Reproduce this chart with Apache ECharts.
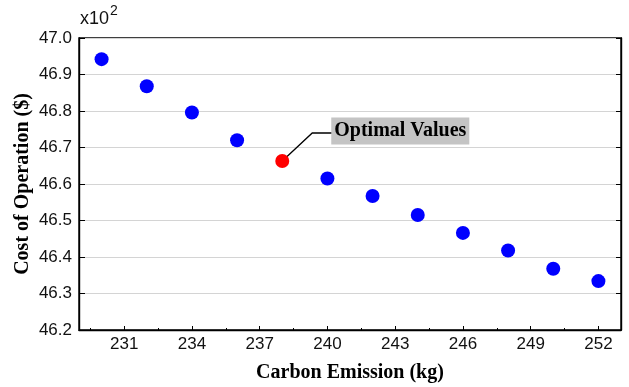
<!DOCTYPE html>
<html>
<head>
<meta charset="utf-8">
<script src="https://cdn.jsdelivr.net/npm/echarts@6/dist/echarts.min.js"></script>
<style>
html,body{margin:0;padding:0;background:#fff;}
#c{width:629px;height:387px;}
</style>
</head>
<body>
<div id="c"></div>
<script>
const emission = [230, 232, 234, 236, 238, 240, 242, 244, 246, 248, 250, 252];
const cost = [46.942, 46.868, 46.796, 46.720, 46.663, 46.615, 46.567, 46.515, 46.466, 46.418, 46.368, 46.334];
const optimalIndex = 4;
const xTicks = [231, 234, 237, 240, 243, 246, 249, 252];
const xMinorTicks = [229.5, 232.5, 235.5, 238.5, 241.5, 244.5, 247.5, 250.5];
const annotationText = 'Optimal Values';

const serif = '"Liberation Serif", "Times New Roman", serif';
const sans = '"Liberation Sans", Arial, sans-serif';

const normalPts = [];
emission.forEach((x, i) => { if (i !== optimalIndex) normalPts.push([x, cost[i]]); });
const optimalPts = [[emission[optimalIndex], cost[optimalIndex]]];

const chart = echarts.init(document.getElementById('c'), null, {renderer: 'canvas'});
const gridPos = {left: 79, top: 38, right: 8, bottom: 57, outerBoundsMode: 'none', containLabel: false};
chart.setOption({
  animation: false,
  backgroundColor: '#fff',
  grid: [
    Object.assign({show: true, borderColor: '#000', borderWidth: 1.4, backgroundColor: 'transparent'}, gridPos),
    Object.assign({show: false}, gridPos)
  ],
  xAxis: [{
    gridIndex: 0, type: 'value', min: 229, max: 253, position: 'bottom',
    name: 'Carbon Emission (kg)', nameLocation: 'middle', nameGap: 33, nameMoveOverlap: false,
    nameTextStyle: {fontFamily: serif, fontWeight: 'bold', fontSize: 20, color: '#000'},
    axisLine: {show: true, lineStyle: {color: '#000', width: 1.4}},
    axisTick: {show: true, inside: true, length: 4, customValues: xTicks, lineStyle: {color: '#000'}},
    axisLabel: {customValues: xTicks, fontFamily: sans, fontSize: 17, color: '#111', margin: 6},
    splitLine: {show: false}
  }, {
    gridIndex: 1, type: 'value', min: 229, max: 253, position: 'bottom',
    axisLine: {show: false},
    axisTick: {show: true, inside: true, length: 2, customValues: xMinorTicks, lineStyle: {color: '#000'}},
    axisLabel: {show: false},
    splitLine: {show: false}
  }],
  yAxis: [{
    gridIndex: 0, type: 'value', min: 46.2, max: 47.0, interval: 0.1, position: 'left',
    name: 'Cost of Operation ($)', nameLocation: 'middle', nameGap: 46, nameMoveOverlap: false,
    nameTextStyle: {fontFamily: serif, fontWeight: 'bold', fontSize: 20, color: '#000'},
    axisLine: {show: true, lineStyle: {color: '#000', width: 1.4}},
    axisTick: {show: true, inside: true, length: 6, lineStyle: {color: '#000'}},
    axisLabel: {fontFamily: sans, fontSize: 17, color: '#111', margin: 7, formatter: v => v.toFixed(1)},
    splitLine: {show: true, lineStyle: {color: '#d4d4d4', width: 1.2}}
  }, {
    gridIndex: 0, type: 'value', min: 46.2, max: 47.0, interval: 0.1, position: 'right',
    axisLine: {show: true, lineStyle: {color: '#000', width: 1.4}},
    axisTick: {show: true, inside: true, length: 5, lineStyle: {color: '#000'}},
    axisLabel: {show: false},
    splitLine: {show: false}
  }, {
    gridIndex: 1, type: 'value', min: 46.2, max: 47.0, show: false
  }],
  series: [{
    type: 'scatter', xAxisIndex: 0, yAxisIndex: 0, data: normalPts,
    symbolSize: 14, itemStyle: {color: '#0000ff', opacity: 1}, z: 5
  }, {
    type: 'scatter', xAxisIndex: 0, yAxisIndex: 0, data: optimalPts,
    symbolSize: 14, itemStyle: {color: '#ff0000', opacity: 1}, z: 5
  }]
});

const p = chart.convertToPixel({gridIndex: 0}, optimalPts[0]);
chart.setOption({
  graphic: [{
    type: 'text', left: 80, top: 10,
    style: {text: 'x10', fontFamily: sans, fontSize: 18, fill: '#111'}
  }, {
    type: 'text', left: 110, top: 4,
    style: {text: '2', fontFamily: sans, fontSize: 14, fill: '#111'}
  }, {
    type: 'polyline', z: 1,
    shape: {points: [[p[0], p[1]], [p[0] + 30, p[1] - 28], [p[0] + 50, p[1] - 28]]},
    style: {stroke: '#000', lineWidth: 1.3, fill: null}
  }, {
    type: 'text', z: 3, x: p[0] + 49, y: p[1] - 30,
    style: {
      text: annotationText, fontFamily: serif, fontWeight: 'bold', fontSize: 20, fill: '#000',
      backgroundColor: '#c4c4c4', padding: [4, 3, 3, 3], verticalAlign: 'middle', align: 'left'
    }
  }]
});
</script>
</body>
</html>
